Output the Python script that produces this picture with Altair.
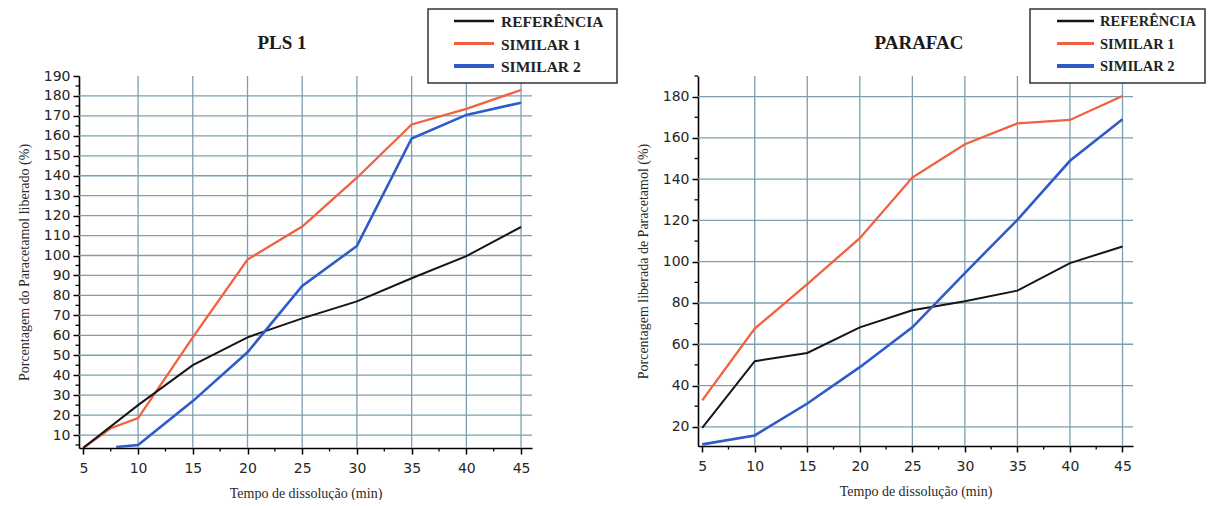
import altair as alt
import pandas as pd

# ---- series (time in minutes, % released) ----
SERIES = ["REFERÊNCIA", "SIMILAR 1", "SIMILAR 2"]
COLORS = ["#151515", "#f2603f", "#2f5bc8"]
WIDTHS = [2.0, 2.6, 3.6]

# PLS 1
pls_ref_t = [5, 10, 15, 20, 25, 30, 35, 40, 45]
pls_ref_v = [3.6, 25.0, 45.0, 59.0, 68.5, 77.0, 88.6, 99.7, 114.3]
pls_s1_t = [5, 7.5, 10, 15, 20, 25, 30, 35, 40, 45]
pls_s1_v = [3.6, 13.4, 18.5, 59.0, 98.0, 114.5, 139.0, 165.7, 173.5, 183.0]
pls_s2_t = [8, 10, 15, 20, 25, 30, 35, 40, 45]
pls_s2_v = [4.0, 5.0, 27.0, 51.5, 84.7, 104.8, 158.7, 170.5, 176.6]

# PARAFAC
par_t = [5, 10, 15, 20, 25, 30, 35, 40, 45]
par_ref_v = [19.5, 51.8, 55.8, 68.2, 76.5, 80.8, 86.0, 99.3, 107.4]
par_s1_v = [32.8, 67.6, 89.2, 111.4, 140.8, 156.9, 167.0, 168.7, 180.3]
par_s2_v = [11.5, 15.8, 31.3, 48.9, 68.2, 94.5, 120.3, 148.9, 169.0]

# axis ticks
x_major = [5, 10, 15, 20, 25, 30, 35, 40, 45]
x_minor = [7.5, 12.5, 17.5, 22.5, 27.5, 32.5, 37.5, 42.5]
x_grid = [10, 15, 20, 25, 30, 35, 40, 45]
pls_y_major = list(range(10, 200, 10))
pls_y_minor = list(range(5, 190, 10))
pls_y_grid = list(range(10, 190, 10))
par_y_major = list(range(20, 200, 20))
par_y_minor = list(range(30, 200, 20))
par_y_grid = list(range(20, 200, 20))

GRID = "#7c9fae"
SERIF = "Liberation Serif"
SANS = "DejaVu Sans"


def long_frame(parts):
    rows = []
    for name, ts, vs in parts:
        for t, v in zip(ts, vs):
            rows.append({"t": t, "v": v, "serie": name})
    return pd.DataFrame(rows)


def panel(df, title, ytitle, ydom, y_major, y_minor, y_grid, w, h,
          title_x, box, sample, text_x, legend_size):
    xs = alt.Scale(domain=[4.6, 46], nice=False, zero=False)
    ys = alt.Scale(domain=ydom, nice=False, zero=False)
    cscale = alt.Scale(domain=SERIES, range=COLORS)

    x_axis = alt.Axis(
        values=x_major, grid=False, tickSize=6, tickWidth=1.5, tickColor="black",
        domainColor="black", domainWidth=1.6, labelFont=SANS, labelFontSize=14,
        labelColor="#262626", labelPadding=7, labelFlush=False, title="Tempo de dissolução (min)",
        titleFont=SERIF, titleFontSize=14, titleFontWeight="normal", titleColor="#2a2a2a",
        titlePadding=11,
    )
    y_axis = alt.Axis(
        values=y_major, grid=False, tickSize=6, tickWidth=1.5, tickColor="black",
        domainColor="black", domainWidth=1.6, labelFont=SANS, labelFontSize=14,
        labelColor="#262626", labelPadding=3, labelFlush=False, title=ytitle,
        titleFont=SERIF, titleFontSize=14, titleFontWeight="normal", titleColor="#2a2a2a",
        titlePadding=12,
    )
    X = alt.X("t:Q", scale=xs, axis=x_axis)
    Y = alt.Y("v:Q", scale=ys, axis=y_axis)

    vgrid = alt.Chart(pd.DataFrame({"t": x_grid})).mark_rule(
        color=GRID, strokeWidth=1.3).encode(x=X, y=alt.value(0), y2=alt.value(h))
    hgrid = alt.Chart(pd.DataFrame({"v": y_grid})).mark_rule(
        color=GRID, strokeWidth=1.3).encode(y=Y, x=alt.value(0), x2=alt.value(w))

    lines = alt.Chart(df).mark_line(clip=True).encode(
        x=X, y=Y,
        color=alt.Color("serie:N", scale=cscale, legend=None),
        strokeWidth=alt.StrokeWidth("serie:N", scale=alt.Scale(domain=SERIES, range=WIDTHS), legend=None),
        order=alt.Order("t:Q"),
    )

    ytick = alt.Chart(pd.DataFrame({"v": y_minor})).mark_rule(
        color="black", strokeWidth=1.3).encode(y=Y, x=alt.value(-3.5), x2=alt.value(0))
    xtick = alt.Chart(pd.DataFrame({"t": x_minor})).mark_rule(
        color="black", strokeWidth=1.3).encode(x=X, y=alt.value(h), y2=alt.value(h + 3.5))

    ttl = alt.Chart(pd.DataFrame({"s": [title]})).mark_text(
        font=SERIF, fontSize=19, fontWeight="bold", color="#1a1a1a",
        align="center", baseline="middle").encode(
        x=alt.value(title_x), y=alt.value(-33), text="s:N")

    bx0, bx1, by0, by1 = box
    frame = alt.Chart(pd.DataFrame({"a": [0]})).mark_rect(
        fill="white", stroke="#333", strokeWidth=1.5).encode(
        x=alt.value(bx0), x2=alt.value(bx1), y=alt.value(by0), y2=alt.value(by1))

    layers = [vgrid, hgrid, lines, ytick, xtick, ttl, frame]
    for i, name in enumerate(SERIES):
        ry = -55 + i * 22.5
        one = pd.DataFrame({"serie": [name]})
        layers.append(alt.Chart(one).mark_rule().encode(
            x=alt.value(sample[0]), x2=alt.value(sample[1]), y=alt.value(ry),
            color=alt.Color("serie:N", scale=cscale, legend=None),
            strokeWidth=alt.value(WIDTHS[i] + 0.6)))
        layers.append(alt.Chart(one).mark_text(
            font=SERIF, fontSize=legend_size, fontWeight="bold", color="#222",
            align="left", baseline="middle").encode(
            x=alt.value(text_x), y=alt.value(ry + 1), text="serie:N"))

    return alt.layer(*layers).properties(width=w, height=h)


pls_df = long_frame([(SERIES[1], pls_s1_t, pls_s1_v), (SERIES[0], pls_ref_t, pls_ref_v),
                     (SERIES[2], pls_s2_t, pls_s2_v)])
par_df = long_frame([(SERIES[1], par_t, par_s1_v), (SERIES[0], par_t, par_ref_v),
                     (SERIES[2], par_t, par_s2_v)])

left = panel(pls_df, "PLS 1", "Porcentagem do Paracetamol liberado (%)", [3.5, 190],
             pls_y_major, pls_y_minor, pls_y_grid, 453, 372,
             203, (349, 538, -67, 7), (375, 415), 422, 15.5)
right = panel(par_df, "PARAFAC", "Porcentagem liberada de Paracetamol (%)", [10.7, 190],
              par_y_major, par_y_minor, par_y_grid, 435, 370,
              221, (332, 507, -67, 7), (359, 396), 402, 14.5)

chart = alt.hconcat(left, right, spacing=18).properties(
    padding={"left": 17, "top": 8, "right": 0, "bottom": 0},
    background="white",
).configure_view(stroke=None)

chart.save("out.html", embed_options={"renderer": "svg", "actions": False})
